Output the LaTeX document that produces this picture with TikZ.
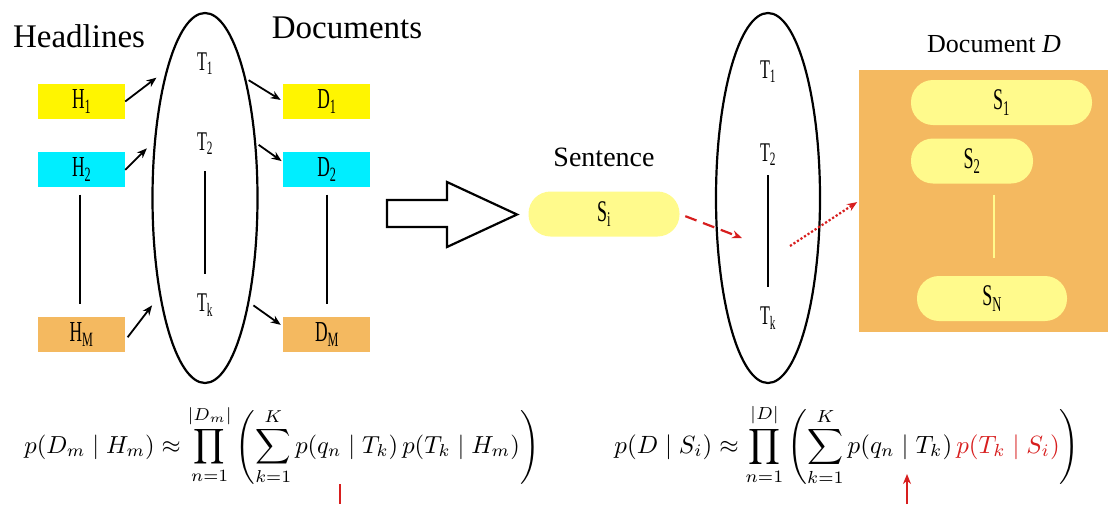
\documentclass[tikz,border=0pt]{standalone}
\usepackage{amsmath,amssymb}
\usepackage{graphicx}
\usepackage{xcolor}
\usepackage{fontspec}
\setmainfont{Liberation Serif}
\usetikzlibrary{shapes.geometric, arrows.meta, positioning, calc}

\definecolor{hyellow}{RGB}{255,245,0}
\definecolor{hcyan}{RGB}{0,238,255}
\definecolor{horange}{RGB}{244,185,96}
\definecolor{pillyellow}{RGB}{255,250,140}
\definecolor{markred}{RGB}{215,30,30}

% narrow labels like T_1, H_1, S_1
\newcommand{\nar}[2]{\scalebox{0.6}[1]{#1\textsubscript{#2}}}

\begin{document}
\begin{tikzpicture}[
    x=1pt, y=-1pt,
    node distance=33pt and 158pt,
    box/.style={rectangle, minimum width=87pt, minimum height=35pt, inner sep=0pt, font=\fontsize{29}{32}\selectfont},
    pill/.style={rectangle, rounded corners=22pt, fill=pillyellow, minimum height=45pt, inner sep=0pt, font=\fontsize{30}{32}\selectfont},
    topic_ell/.style={ellipse, draw, line width=2.2pt, minimum width=105pt, minimum height=370pt, inner sep=0pt},
    tlabel/.style={font=\fontsize{27}{30}\selectfont, inner sep=0pt},
    title_style/.style={font=\fontsize{33}{36}\selectfont, inner sep=0pt},
    arrow/.style={-{Stealth[length=10pt, width=8pt]}, line width=1.8pt},
    red_arrow/.style={-{Stealth[length=10pt, width=8pt]}, line width=2.2pt, markred},
    link/.style={line width=2pt}
]
\useasboundingbox (0,0) rectangle (1108,504);

% left part: headlines -> topics -> documents
\node[box, fill=hyellow] (H1) at (81.5,101.5) {\nar{H}{1}};
\node[box, fill=hcyan, below=of H1] (H2) {\nar{H}{2}};
\node[box, fill=horange, below=129pt of H2] (HM) {\nar{H}{M}};
\node[box, fill=hyellow, right=of H1] (D1) {\nar{D}{1}};
\node[box, fill=hcyan, right=of H2] (D2) {\nar{D}{2}};
\node[box, fill=horange, right=of HM] (DM) {\nar{D}{M}};

\node[title_style] (headl) at (79,36) {Headlines};
\node[title_style] (docs) at (347,28) {Documents};

\node[topic_ell] (ellL) at (205,198) {};
\node[tlabel] (T1L) at (205,64) {\nar{T}{1}};
\node[tlabel] (T2L) at (205,144) {\nar{T}{2}};
\node[tlabel] (TkL) at (205,305) {\nar{T}{k}};

\draw[link] ([xshift=-1.5pt, yshift=-7pt]H2.south) -- ([xshift=-1.5pt, yshift=13pt]HM.north);
\draw[link] ([yshift=-7pt]D2.south) -- ([yshift=13pt]DM.north);
\draw[link] ([yshift=-16pt]T2L.south) -- ([yshift=20pt]TkL.north);

\draw[arrow, shorten >=12pt] (H1.east) -- (ellL.107);
\draw[arrow, shorten >=10pt] (H2.east) -- (ellL.132);
\draw[arrow, shorten >=12pt, shorten <=4pt] (HM.-8) -- (ellL.245);
\draw[arrow, shorten <=3pt, shorten >=3pt] (ellL.71) -- (D1.west);
\draw[arrow, shorten <=3pt, shorten >=2pt] (ellL.47) -- (D2.170);
\draw[arrow, shorten <=5pt, shorten >=3pt] (ellL.293) -- (DM.170);

% block arrow between the two parts
\draw[line width=2.2pt, fill=white] (387,200) -- (447,200) -- (447,182) -- (517,214.5)
    -- (447,247) -- (447,227) -- (387,227) -- cycle;

% right part: sentence -> topics -> document D
\node[pill, minimum width=151pt] (Si) at (604,214) {\nar{S}{i}};
\node[font=\fontsize{28}{30}\selectfont, inner sep=0pt, above=24pt of Si] (sent) {Sentence};

\node[topic_ell, minimum width=104pt] (ellR) at (768,198) {};
\node[tlabel] (T1R) at (768,72) {\nar{T}{1}};
\node[tlabel] (T2R) at (768,155) {\nar{T}{2}};
\node[tlabel] (TkR) at (768,318) {\nar{T}{k}};
\draw[link] ([yshift=-9pt]T2R.south) -- ([yshift=20pt]TkR.north);

\node[rectangle, fill=horange, minimum width=249pt, minimum height=262pt, inner sep=0pt] (docD) at (983.5,201) {};
\node[font=\fontsize{26}{28}\selectfont, inner sep=0pt] (docDl) at (994,44) {Document \textit{D}};
\node[pill, minimum width=181pt] (S1) at (1001.5,102.5) {\nar{S}{1}};
\node[pill, minimum width=122pt] (S2) at (972,161) {\nar{S}{2}};
\node[pill, minimum width=150pt] (SN) at (992,298.5) {\nar{S}{N}};
\draw[pillyellow, line width=2pt] ([yshift=-11pt]S2.south -| 994,0) -- ([yshift=18pt]SN.north -| 994,0);

\coordinate (hitR) at (742,238);
\coordinate (fromR) at (790,246);
\draw[red_arrow, dash pattern=on 12pt off 7pt, shorten <=6pt] (Si.east) -- (hitR);
\draw[red_arrow, dotted, shorten >=2pt] (fromR) -- (docD.west);

% formulas
\node[inner sep=0pt] (eqH) at (282,445) {\resizebox{515pt}{!}{$\displaystyle
  p(D_m \mid H_m) \approx \prod_{n=1}^{|D_m|} \left( \sum_{k=1}^{K} p(q_n \mid T_k)\, p(T_k \mid H_m) \right)$}};
\node[inner sep=0pt] (eqS) at (847,445) {\resizebox{465pt}{!}{$\displaystyle
  p(D \mid S_i) \approx \prod_{n=1}^{|D|} \left( \sum_{k=1}^{K} p(q_n \mid T_k)\, \textcolor{markred}{p(T_k \mid S_i)} \right)$}};

\coordinate (cut1top) at (340,484);
\coordinate (cut1bot) at (340,504);
\coordinate (cut2top) at (907,474);
\coordinate (cut2bot) at (907,504);
\draw[markred, line width=2.4pt] (cut1top) -- (cut1bot);
\draw[red_arrow] (cut2bot) -- (cut2top);
\end{tikzpicture}
\end{document}
